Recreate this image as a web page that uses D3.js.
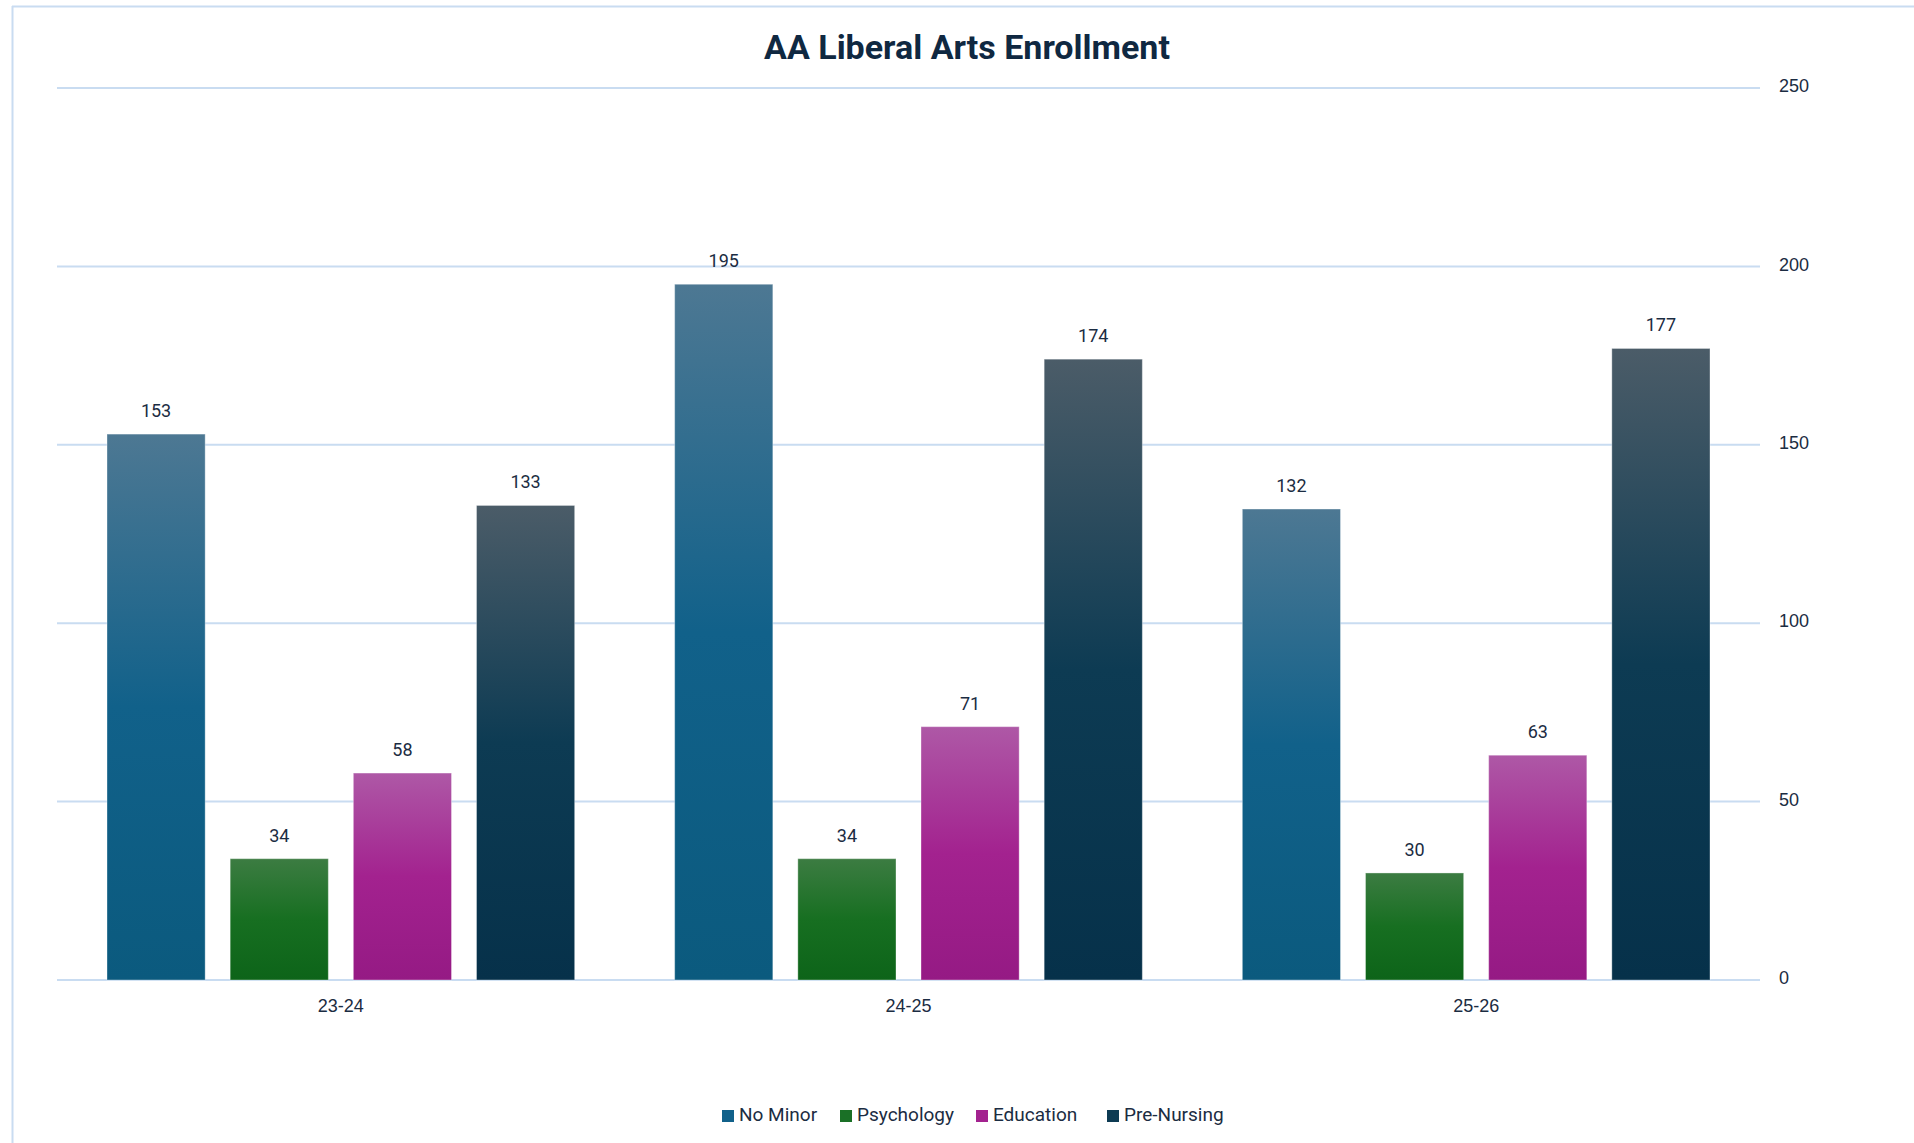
<!DOCTYPE html>
<html>
<head>
<meta charset="utf-8">
<script src="https://cdn.jsdelivr.net/npm/d3@7"></script>
<style>
  html, body { margin: 0; padding: 0; background: #fff; }
  svg { display: block; font-family: Roboto, "Liberation Sans", sans-serif; }
</style>
</head>
<body>
<svg id="chart" width="1914" height="1143"></svg>
<script>
// Enrollment by academic year and minor
const years = ["23-24", "24-25", "25-26"];
const series = ["No Minor", "Psychology", "Education", "Pre-Nursing"];
const noMinor = [153, 195, 132];
const psychology = [34, 34, 30];
const education = [58, 71, 63];
const preNursing = [133, 174, 177];
const yTicks = [0, 50, 100, 150, 200, 250];

const valuesBySeries = [noMinor, psychology, education, preNursing];

// Vertical shading per series: light top, saturated body, deeper base
const palette = [
  { top: "#4d7893", mid: "#11618a", bot: "#0b5a7e", key: "#11618a" },
  { top: "#3c7c42", mid: "#176f21", bot: "#0d6419", key: "#1a7026" },
  { top: "#ae58a6", mid: "#a3228f", bot: "#951a84", key: "#a3228f" },
  { top: "#4b5c68", mid: "#0d3b53", bot: "#06314a", key: "#0d3b53" }
];

const W = 1914, H = 1143;
const svg = d3.select("#chart");
const ink = "#1b2c42";
const gridColor = "#c9dcf1";

// Chart frame (top and left edges)
svg.append("line").attr("x1", 12).attr("x2", W).attr("y1", 6.5).attr("y2", 6.5)
  .attr("stroke", gridColor).attr("stroke-width", 2);
svg.append("line").attr("x1", 12.5).attr("x2", 12.5).attr("y1", 6).attr("y2", H)
  .attr("stroke", gridColor).attr("stroke-width", 2);

const defs = svg.append("defs");
palette.forEach((p, i) => {
  const g = defs.append("linearGradient").attr("id", "grad" + i)
    .attr("x1", 0).attr("y1", 0).attr("x2", 0).attr("y2", 1);
  g.append("stop").attr("offset", "0%").attr("stop-color", p.top);
  g.append("stop").attr("offset", "50%").attr("stop-color", p.mid);
  g.append("stop").attr("offset", "100%").attr("stop-color", p.bot);
});

const plotLeft = 57, plotRight = 1760, plotTop = 88, plotBottom = 980;

const y = d3.scaleLinear().domain([0, 250]).range([plotBottom, plotTop]);
const x0 = d3.scaleBand().domain(years).range([plotLeft, plotRight]).paddingInner(0).paddingOuter(0);
const groupPad = 50;
const x1 = d3.scaleBand().domain(series)
  .range([groupPad, x0.bandwidth() - groupPad]).paddingInner(0.203).paddingOuter(0);

// Gridlines
svg.append("g").selectAll("line").data(yTicks).join("line")
  .attr("x1", plotLeft).attr("x2", plotRight)
  .attr("y1", d => y(d)).attr("y2", d => y(d))
  .attr("stroke", gridColor).attr("stroke-width", 2);

// Right-hand value axis
const yAxis = svg.append("g")
  .attr("transform", `translate(${plotRight + 19},0)`)
  .call(d3.axisRight(y).tickValues(yTicks).tickSize(0).tickPadding(0));
yAxis.select(".domain").remove();
yAxis.selectAll("text").attr("fill", ink).attr("font-size", 18).attr("dy", "0.2em");

// Category axis labels
const xAxis = svg.append("g")
  .attr("transform", `translate(0,${plotBottom})`)
  .call(d3.axisBottom(x0).tickSize(0).tickPadding(19));
xAxis.select(".domain").remove();
xAxis.selectAll("text").attr("fill", ink).attr("font-size", 18);

// Bars
const rows = [];
years.forEach((yr, i) => series.forEach((s, j) => rows.push({ yr, s, j, v: valuesBySeries[j][i] })));

const groups = svg.append("g");
groups.selectAll("rect").data(rows).join("rect")
  .attr("x", d => x0(d.yr) + x1(d.s))
  .attr("y", d => y(d.v))
  .attr("width", x1.bandwidth())
  .attr("height", d => y(0) - y(d.v))
  .attr("fill", d => `url(#grad${d.j})`)
  .attr("stroke", "rgba(255,255,255,0.35)")
  .attr("stroke-width", 1);

// Value labels
groups.selectAll("text").data(rows).join("text")
  .attr("x", d => x0(d.yr) + x1(d.s) + x1.bandwidth() / 2)
  .attr("y", d => y(d.v) - 17)
  .attr("text-anchor", "middle")
  .attr("font-size", 18)
  .attr("fill", ink)
  .text(d => d.v);

// Title
svg.append("text")
  .attr("x", 967).attr("y", 59)
  .attr("text-anchor", "middle")
  .attr("font-size", 34).attr("font-weight", 700)
  .attr("fill", "#0f2841")
  .text("AA Liberal Arts Enrollment");

// Legend
const legendX = [722, 840, 976, 1107];
const legend = svg.append("g");
series.forEach((s, j) => {
  const g = legend.append("g").attr("transform", `translate(${legendX[j]},1110)`);
  g.append("rect").attr("width", 12).attr("height", 12).attr("fill", palette[j].key);
  g.append("text").attr("x", 17).attr("y", 11).attr("font-size", 19).attr("fill", ink).text(s);
});
</script>
</body>
</html>
